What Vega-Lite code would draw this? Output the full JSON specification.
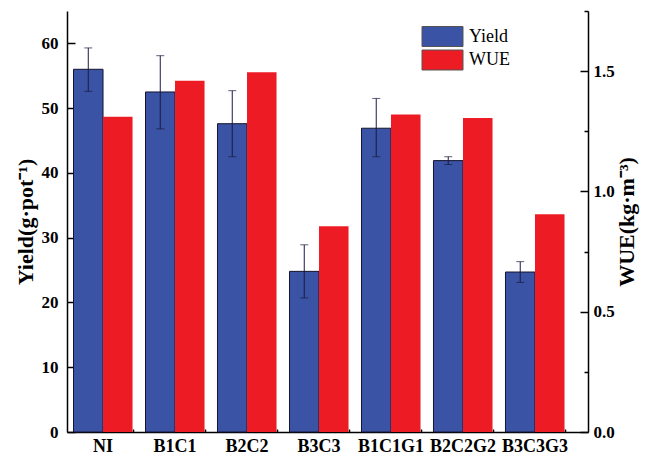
{
  "$schema": "https://vega.github.io/schema/vega-lite/v6.json",
  "width": 521,
  "height": 421,
  "autosize": {"type": "none"},
  "padding": {"left": 67, "top": 11, "right": 59, "bottom": 25},
  "background": "white",
  "config": {
    "view": {"stroke": null},
    "axis": {
      "domainColor": "black",
      "domainWidth": 1.5,
      "tickColor": "black",
      "tickWidth": 1.5,
      "grid": false,
      "labelFont": "Liberation Serif",
      "labelFontWeight": "bold",
      "labelFontSize": 17,
      "labelColor": "black",
      "titleFont": "Liberation Serif",
      "titleFontWeight": "bold",
      "titleFontSize": 22,
      "titleColor": "black"
    },
    "legend": {
      "orient": "none",
      "legendX": 365,
      "legendY": 15,
      "title": null,
      "symbolType": "M-2.05,-1H2.05V1H-2.05Z",
      "symbolSize": 400,
      "symbolStrokeColor": "#555555",
      "symbolStrokeWidth": 1,
      "symbolOpacity": 1,
      "labelFont": "Liberation Serif",
      "labelFontSize": 18,
      "labelFontWeight": "normal",
      "labelColor": "black",
      "labelOffset": 16,
      "rowPadding": -1.5
    }
  },
  "data": {
    "values": [
      {"g": "NI", "s": "Yield", "v": 56.0, "lo": 52.6, "hi": 59.3},
      {"g": "B1C1", "s": "Yield", "v": 52.5, "lo": 46.8, "hi": 58.1},
      {"g": "B2C2", "s": "Yield", "v": 47.6, "lo": 42.5, "hi": 52.7},
      {"g": "B3C3", "s": "Yield", "v": 24.8, "lo": 20.7, "hi": 28.9},
      {"g": "B1C1G1", "s": "Yield", "v": 46.9, "lo": 42.5, "hi": 51.5},
      {"g": "B2C2G2", "s": "Yield", "v": 41.9, "lo": 41.3, "hi": 42.5},
      {"g": "B3C3G3", "s": "Yield", "v": 24.7, "lo": 23.1, "hi": 26.3},
      {"g": "NI", "s": "WUE", "v": 1.31},
      {"g": "B1C1", "s": "WUE", "v": 1.46},
      {"g": "B2C2", "s": "WUE", "v": 1.495},
      {"g": "B3C3", "s": "WUE", "v": 0.855},
      {"g": "B1C1G1", "s": "WUE", "v": 1.32},
      {"g": "B2C2G2", "s": "WUE", "v": 1.305},
      {"g": "B3C3G3", "s": "WUE", "v": 0.905}
    ]
  },
  "layer": [
    {
      "transform": [{"filter": "datum.s === 'Yield'"}],
      "encoding": {
        "x": {
          "field": "g", "type": "nominal", "sort": null,
          "scale": {"paddingInner": 0.18, "paddingOuter": 0.2083, "align": 0.217},
          "axis": {
            "orient": "bottom", "title": null, "labelAngle": 0, "labelFontSize": 18,
            "tickBand": "center", "tickSize": -6, "labelPadding": 11
          }
        },
        "xOffset": {"field": "s", "type": "nominal", "scale": {"domain": ["Yield", "WUE"], "paddingInner": 0, "paddingOuter": 0}}
      },
      "layer": [
        {
          "mark": {"type": "bar", "stroke": "#15152e", "strokeWidth": 1},
          "encoding": {
            "y": {
              "field": "v", "type": "quantitative",
              "scale": {"domain": [0, 65], "nice": false},
              "axis": {
                "orient": "left",
                "title": "Yield(g·pot⁻¹)",
                "values": [0, 5, 10, 15, 20, 25, 30, 35, 40, 45, 50, 55, 60, 65],
                "labelExpr": "datum.value % 10 === 0 ? datum.label : ''",
                "tickSize": {"condition": {"test": "datum.value % 10 === 0", "value": -8}, "value": -4},
                "labelPadding": 17,
                "titlePadding": 4
              }
            },
            "color": {
              "field": "s", "type": "nominal",
              "scale": {"domain": ["Yield", "WUE"], "range": ["#3A53A4", "#ED1C24"]}
            }
          }
        },
        {
          "mark": {"type": "rule", "color": "#1a1a40", "strokeWidth": 1},
          "encoding": {
            "y": {"field": "lo", "type": "quantitative"},
            "y2": {"field": "hi"}
          }
        },
        {
          "mark": {"type": "tick", "color": "#1a1a40", "size": 8, "thickness": 1},
          "encoding": {"y": {"field": "hi", "type": "quantitative"}}
        },
        {
          "mark": {"type": "tick", "color": "#1a1a40", "size": 8, "thickness": 1},
          "encoding": {"y": {"field": "lo", "type": "quantitative"}}
        }
      ]
    },
    {
      "transform": [{"filter": "datum.s === 'WUE'"}],
      "mark": {"type": "bar"},
      "encoding": {
        "x": {
          "field": "g", "type": "nominal", "sort": null,
          "axis": {
            "orient": "bottom", "title": null, "labels": false, "domain": false,
            "tickBand": "extent", "tickSize": -3
          }
        },
        "xOffset": {"field": "s", "type": "nominal", "scale": {"domain": ["Yield", "WUE"]}},
        "y": {
          "field": "v", "type": "quantitative",
          "scale": {"domain": [0, 1.75], "nice": false},
          "axis": {
            "orient": "right",
            "title": "WUE(kg·m⁻³)",
            "titleAngle": 270,
            "titleBaseline": "top",
            "values": [0, 0.25, 0.5, 0.75, 1, 1.25, 1.5, 1.75],
            "format": ".1f",
            "labelExpr": "datum.value % 0.5 === 0 ? datum.label : ''",
            "tickSize": {"condition": {"test": "datum.value % 0.5 === 0", "value": -8}, "value": -4},
            "labelPadding": 13,
            "titlePadding": 2
          }
        },
        "color": {"field": "s", "type": "nominal"}
      }
    }
  ],
  "resolve": {"scale": {"y": "independent"}, "axis": {"x": "independent", "y": "independent"}}
}
